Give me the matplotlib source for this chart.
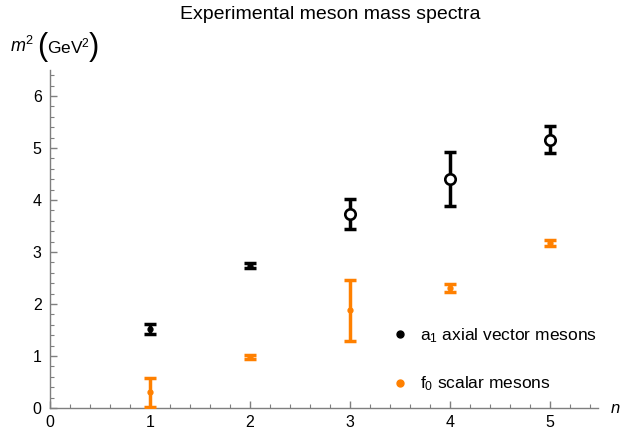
import numpy as np
import matplotlib
matplotlib.use("Agg")
from matplotlib import pyplot as plt
from matplotlib.lines import Line2D
from matplotlib.ticker import MultipleLocator

plt.rcParams['font.family'] = ['Liberation Sans', 'DejaVu Sans']
plt.rcParams['mathtext.fontset'] = 'custom'
plt.rcParams['mathtext.rm'] = 'Liberation Sans'
plt.rcParams['mathtext.it'] = 'Liberation Sans:italic'

# a1 axial vector mesons: m^2 and asymmetric errors (GeV^2)
a1_n = [1, 2, 3, 4, 5]
a1_m2 = [1.52, 2.74, 3.73, 4.40, 5.16]
a1_lo = [0.10, 0.05, 0.28, 0.52, 0.26]
a1_hi = [0.10, 0.05, 0.28, 0.52, 0.26]
a1_open = [False, False, True, True, True]

# f0 scalar mesons
f0_n = [1, 2, 3, 4, 5]
f0_m2 = [0.30, 0.98, 1.88, 2.31, 3.18]
f0_lo = [0.29, 0.04, 0.60, 0.08, 0.06]
f0_hi = [0.28, 0.04, 0.59, 0.08, 0.06]

black = "#000000"
orange = "#ff8000"
axis_gray = "#7f7f7f"

fig = plt.figure(figsize=(6.33, 4.30), dpi=100)
ax = fig.add_axes([0.079, 0.0512, 0.866, 0.786])


def draw_series(n, m2, lo, hi, color, open_flags=None):
    ax.errorbar(n, m2, yerr=[lo, hi], fmt='none', ecolor=color,
                elinewidth=2.5, capsize=4, capthick=2.5, zorder=3)
    for i in range(len(n)):
        if open_flags is not None and open_flags[i]:
            ax.plot(n[i], m2[i], 'o', ms=7.5, mfc='white', mec=color,
                    mew=1.9, zorder=4)
        else:
            ax.plot(n[i], m2[i], 'o', ms=3.5, color=color, zorder=4)


draw_series(a1_n, a1_m2, a1_lo, a1_hi, black, a1_open)
draw_series(f0_n, f0_m2, f0_lo, f0_hi, orange)

ax.set_xlim(0, 5.48)
ax.set_ylim(0, 6.5)
ax.xaxis.set_major_locator(MultipleLocator(1))
ax.xaxis.set_minor_locator(MultipleLocator(0.2))
ax.yaxis.set_major_locator(MultipleLocator(1))
ax.yaxis.set_minor_locator(MultipleLocator(0.2))
for side in ['top', 'right']:
    ax.spines[side].set_visible(False)
for side in ['left', 'bottom']:
    ax.spines[side].set_color(axis_gray)
    ax.spines[side].set_linewidth(1.0)
ax.tick_params(which='both', direction='in', color=axis_gray, labelsize=11.5,
               labelcolor='black')
ax.tick_params(which='major', length=5, width=1)
ax.tick_params(which='minor', length=3, width=0.8)
ax.tick_params(axis='x', pad=5)
ax.tick_params(axis='y', pad=6)

handles = [
    Line2D([], [], ls='none', marker='o', ms=5, color=black,
           label=r'a$_1$ axial vector mesons'),
    Line2D([], [], ls='none', marker='o', ms=5, color=orange,
           label=r'f$_0$ scalar mesons'),
]
ax.legend(handles=handles, loc='upper left', bbox_to_anchor=(0.626, 0.241),
          frameon=False, fontsize=12.5, labelspacing=1.7, handlelength=0.8,
          handletextpad=0.75, borderaxespad=0, borderpad=0)

fig.text(0.521, 0.967, "Experimental meson mass spectra", ha='center',
         va='center', fontsize=14)

# y axis label with tall parentheses
fig.text(0.016, 0.893, r"$m^2$", ha='left', va='center', fontsize=13)
fig.text(0.058, 0.890, "(", ha='left', va='center', fontsize=22)
fig.text(0.075, 0.893, r"GeV$^2$", ha='left', va='center', fontsize=12.5)
fig.text(0.141, 0.890, ")", ha='left', va='center', fontsize=22)

fig.text(0.972, 0.05, r"$n$", ha='center', va='center', fontsize=12)

fig.savefig("out.png", dpi=100)
